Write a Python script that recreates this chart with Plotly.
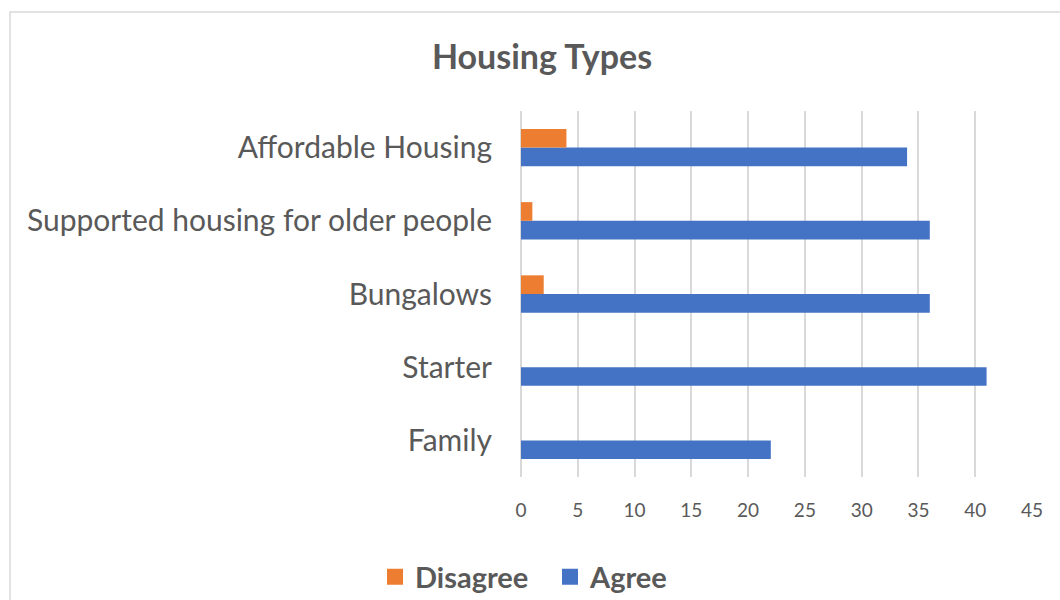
import plotly.graph_objects as go

# Housing type preferences: counts of responses per type
categories = ["Family", "Starter", "Bungalows",
              "Supported housing for older people", "Affordable Housing"]
agree = [22, 41, 36, 36, 34]
disagree = [0, 0, 2, 1, 4]
x_ticks = [0, 5, 10, 15, 20, 25, 30, 35, 40, 45]

TEXT = "#595959"
GRID = "#d9d9d9"
FONT = "Lato"
C_AGREE = "#4472C4"
C_DISAGREE = "#ED7D31"

fig = go.Figure()
fig.add_trace(go.Bar(
    y=categories, x=agree, orientation="h", name="Agree",
    marker=dict(color=C_AGREE, line=dict(width=0)), showlegend=False,
))
fig.add_trace(go.Bar(
    y=categories, x=disagree, orientation="h", name="Disagree",
    marker=dict(color=C_DISAGREE, line=dict(width=0)), showlegend=False,
))
# legend entries with larger square swatches
for name, color in [("Disagree", C_DISAGREE), ("Agree", C_AGREE)]:
    fig.add_trace(go.Scatter(
        x=[None], y=[None], mode="markers", name=f"<b>{name}</b>",
        marker=dict(symbol="square", size=16, color=color),
    ))

L, R, T, B = 521, 28, 111, 123
W, H = 1060, 600
pw, ph = W - L - R, H - T - B

fig.update_layout(
    width=W, height=H,
    margin=dict(l=L, r=R, t=T, b=B, autoexpand=False),
    paper_bgcolor="white", plot_bgcolor="white",
    barmode="group", bargap=0.49, bargroupgap=0,
    font=dict(family=FONT, color=TEXT),
    title=dict(text="<b>Housing Types</b>", x=542 / W, xanchor="center",
               y=1 - 57 / H, yanchor="middle",
               font=dict(family=FONT, size=34, color=TEXT)),
    xaxis=dict(range=[0, 45], tickvals=x_ticks, showgrid=True,
               gridcolor=GRID, gridwidth=1.5, zeroline=True,
               zerolinecolor=GRID, zerolinewidth=1.5, showline=False,
               ticks="", ticklabelstandoff=20,
               tickfont=dict(family=FONT, size=19, color=TEXT),
               fixedrange=True),
    yaxis=dict(type="category", categoryorder="array", categoryarray=categories,
               showgrid=False, zeroline=False, showline=False, ticks="",
               ticklabelstandoff=28,
               tickfont=dict(family=FONT, size=30, color=TEXT)),
    legend=dict(orientation="h",
                x=(550 - L) / pw, xanchor="center",
                y=(H - B - 577) / ph, yanchor="middle",
                font=dict(family=FONT, size=29, color=TEXT),
                itemwidth=30, entrywidth=130),
    showlegend=True,
    shapes=[dict(type="rect", xref="paper", yref="paper",
                 x0=(10 - L) / pw, x1=2, y0=-2, y1=(H - B - 12) / ph,
                 line=dict(color=GRID, width=1.5), layer="below")],
)

fig.write_html("out.html")
